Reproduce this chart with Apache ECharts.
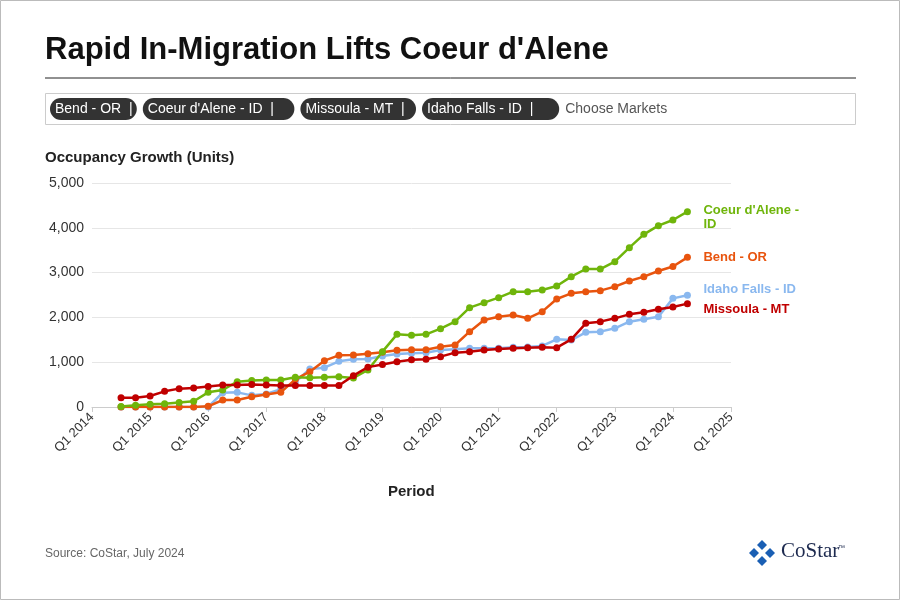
<!DOCTYPE html>
<html><head><meta charset="utf-8">
<script src="https://cdn.jsdelivr.net/npm/echarts@6/dist/echarts.min.js"></script>
<style>html,body{margin:0;padding:0;background:#fff}#c{width:900px;height:600px}</style>
</head><body><div id="c"></div>
<script>
var quarters = [];
for (var y = 2014; y <= 2025; y++) for (var q = 1; q <= 4; q++) { if (y === 2025 && q > 1) break; quarters.push('Q' + q + ' ' + y); }
var pre = [null, null], post = [null, null, null];
var bend = [0,0,0,0,0,0,15,156,156,230,280,327,618,788,1034,1153,1160,1190,1220,1265,1280,1280,1346,1384,1681,1942,2016,2054,1979,2128,2411,2537,2574,2597,2686,2812,2910,3036,3135,3341];
var coeur = [10,37,60,75,100,127,327,380,565,590,605,605,662,655,662,677,650,826,1235,1622,1600,1622,1749,1905,2217,2329,2440,2574,2574,2612,2700,2910,3080,3080,3244,3557,3854,4048,4174,4360];
var missoula = [208,208,245,350,410,425,460,490,490,500,490,480,480,480,480,480,700,890,950,1010,1055,1065,1124,1213,1235,1272,1295,1310,1325,1335,1325,1510,1868,1905,1979,2068,2113,2180,2232,2307];
var idaho = [0,0,0,0,0,0,0,320,327,260,290,395,558,848,877,1019,1064,1071,1138,1183,1198,1213,1272,1287,1310,1310,1310,1332,1340,1362,1510,1495,1667,1682,1756,1905,1957,2016,2425,2493];
var chips = ['Bend - OR', "Coeur d'Alene - ID", 'Missoula - MT', 'Idaho Falls - ID'];
function pad(a){ return pre.concat(a, post); }
function mk(name, data, color, label, off, z){
  return { name: name, type: 'line', data: pad(data), z: z, symbol: 'circle', symbolSize: 7,
    lineStyle: { width: 2.5, color: color }, itemStyle: { color: color }, connectNulls: false,
    endLabel: { show: true, formatter: label, color: color, fontWeight: 'bold', fontSize: 13, fontFamily: 'Arial', offset: off, lineHeight: 14 } };
}
var chart = echarts.init(document.getElementById('c'));
var g = [
  { type: 'rect', shape: { x: 0.5, y: 0.5, width: 899, height: 599 }, style: { fill: 'none', stroke: '#bbb' } },
  { type: 'text', left: 45, top: 35, style: { text: "Rapid In-Migration Lifts Coeur d'Alene", font: 'bold 31px Arial', fill: '#111' } },
  { type: 'line', shape: { x1: 45, y1: 78, x2: 856, y2: 78 }, style: { stroke: '#222', lineWidth: 1 } },
  { type: 'rect', shape: { x: 45.5, y: 93.5, width: 810, height: 31 }, style: { fill: '#fff', stroke: '#ccc' } },
  { type: 'text', left: 45, top: 150, style: { text: 'Occupancy Growth (Units)', font: 'bold 15px Arial', fill: '#222' } },
  { type: 'text', left: 388, top: 484, style: { text: 'Period', font: 'bold 15px Arial', fill: '#222' } },
  { type: 'text', left: 45, top: 548, style: { text: 'Source: CoStar, July 2024', font: '12px Arial', fill: '#666' } },
  { type: 'text', left: 781, top: 541, style: { text: 'CoStar', font: '21px "Liberation Serif"', fill: '#1d2a4f' } },
  { type: 'text', left: 838, top: 545, style: { text: '™', font: '7px Arial', fill: '#1d2a4f' } }
];
[[762,545],[770,553],[762,561],[754,553]].forEach(function(p){
  g.push({ type: 'polygon', shape: { points: [[p[0],p[1]-5],[p[0]+5,p[1]],[p[0],p[1]+5],[p[0]-5,p[1]]] }, style: { fill: '#1a5fb4' } });
});
var cx = 50;
chips.forEach(function(t){
  var w = t.length * 7.2 + 22;
  g.push({ type: 'rect', shape: { x: cx, y: 98, width: w, height: 22, r: 11 }, style: { fill: '#333' } });
  g.push({ type: 'text', left: cx + 5, top: 102, style: { text: t + '  |', font: '14px Arial', fill: '#fff' } });
  cx += w + 6;
});
g.push({ type: 'text', left: cx, top: 102, style: { text: 'Choose Markets', font: '14px Arial', fill: '#555' } });
chart.setOption({
  animation: false,
  grid: { left: 92, right: 169, top: 183, bottom: 193 },
  graphic: g,
  xAxis: { type: 'category', data: quarters, boundaryGap: false,
    axisLine: { lineStyle: { color: '#ccc' } }, axisTick: { interval: 3, lineStyle: { color: '#ccc' } },
    axisLabel: { interval: 3, rotate: 45, color: '#333', fontSize: 13, fontFamily: 'Arial' }, splitLine: { show: false } },
  yAxis: { type: 'value', min: 0, max: 5000, interval: 1000,
    axisLabel: { color: '#333', fontSize: 14, fontFamily: 'Arial', formatter: function(v){ return v.toLocaleString('en-US'); } },
    splitLine: { lineStyle: { color: '#e6e6e6' } } },
  series: [
    mk('Bend - OR', bend, '#e8540e', 'Bend - OR', [8, 0], 2),
    mk("Coeur d'Alene - ID", coeur, '#6fb50b', "Coeur d'Alene -\nID", [8, 6], 3),
    mk('Missoula - MT', missoula, '#c00000', 'Missoula - MT', [8, 6], 4),
    mk('Idaho Falls - ID', idaho, '#8ab8ef', 'Idaho Falls - ID', [8, -6], 1)
  ]
});
</script></body></html>
